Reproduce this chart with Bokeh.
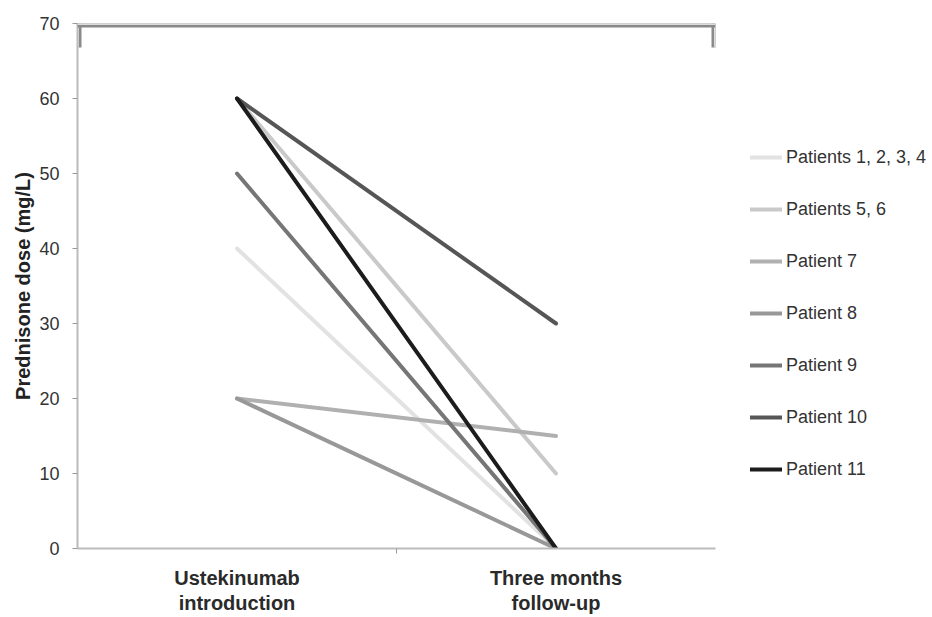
from bokeh.plotting import figure
from bokeh.models import Range1d, FixedTicker, Legend, LegendItem, Span
from bokeh.embed import file_html
from bokeh.resources import INLINE

categories = ["Ustekinumab\nintroduction", "Three months\nfollow-up"]
patients = ["Patients 1, 2, 3, 4", "Patients 5, 6", "Patient 7", "Patient 8",
            "Patient 9", "Patient 10", "Patient 11"]
dose_start = [40, 60, 20, 20, 50, 60, 60]
dose_end = [0, 10, 15, 0, 0, 30, 0]
colors = ["#e2e2e2", "#c9c9c9", "#b0b0b0", "#989898", "#767676", "#565656", "#1c1c1c"]
y_ticks = [0, 10, 20, 30, 40, 50, 60, 70]
y_max = 70

xpos = [i + 0.5 for i in range(len(categories))]
xr = Range1d(0, len(categories))
yr = Range1d(0, y_max)

p = figure(frame_width=638, frame_height=525, output_backend="svg", toolbar_location=None,
           x_range=xr, y_range=yr,
           min_border_left=77, min_border_right=0, min_border_top=23,
           min_border_bottom=60)
p.outline_line_color = None
p.xgrid.visible = False
p.ygrid.visible = False

items = []
for name, a, b, c in zip(patients, dose_start, dose_end, colors):
    r = p.line(xpos, [a, b], line_color=c, line_width=4, line_cap="round")
    items.append(LegendItem(label=name, renderers=[r]))

# decorative top frame (double line with end stubs)
stub_x = [xr.start, xr.end]
stub_top = [y_max, y_max]
stub_bot = [y_max - 3.2, y_max - 3.2]
p.segment(x0=stub_x, y0=stub_top, x1=stub_x, y1=stub_bot, line_color="#8a8a8a", line_width=8)
p.add_layout(Span(location=y_max, dimension="width", line_color="#8a8a8a", line_width=8))
p.add_layout(Span(location=y_max, dimension="width", line_color="#dcdcdc", line_width=3))
p.segment(x0=stub_x, y0=stub_top, x1=stub_x, y1=stub_bot, line_color="#dcdcdc", line_width=3)

# x axis
p.xaxis.ticker = FixedTicker(ticks=xpos, minor_ticks=[1])
p.xaxis.major_label_overrides = {x: c for x, c in zip(xpos, categories)}
p.xaxis.major_tick_line_color = None
p.xaxis.major_tick_out = 0
p.xaxis.major_tick_in = 0
p.xaxis.minor_tick_line_color = "#999999"
p.xaxis.minor_tick_out = 5
p.xaxis.minor_tick_in = 0
p.xaxis.axis_line_color = "#bbbbbb"
p.xaxis.axis_line_width = 2
p.xaxis.major_label_text_font = "Liberation Sans"
p.xaxis.major_label_text_font_style = "bold"
p.xaxis.major_label_text_font_size = "20px"
p.xaxis.major_label_text_color = "#2a2a2a"
p.xaxis.major_label_text_line_height = 1.15
p.xaxis.major_label_standoff = 13

# y axis
p.yaxis.ticker = FixedTicker(ticks=y_ticks)
p.yaxis.minor_tick_line_color = None
p.yaxis.major_tick_line_color = "#999999"
p.yaxis.major_tick_out = 5
p.yaxis.major_tick_in = 0
p.yaxis.axis_line_color = "#bbbbbb"
p.yaxis.axis_line_width = 2
p.yaxis.major_label_text_font = "Liberation Sans"
p.yaxis.major_label_text_font_size = "18px"
p.yaxis.major_label_text_color = "#333333"
p.yaxis.major_label_standoff = 13
p.yaxis.axis_label = "Prednisone dose (mg/L)"
p.yaxis.axis_label_text_font = "Liberation Sans"
p.yaxis.axis_label_text_font_style = "bold"
p.yaxis.axis_label_text_font_size = "20px"
p.yaxis.axis_label_text_color = "#222222"
p.yaxis.axis_label_standoff = 2

legend = Legend(items=items, location=(35, 68), orientation="vertical")
legend.border_line_color = None
legend.background_fill_alpha = 0
legend.padding = 0
legend.margin = 0
legend.glyph_width = 32
legend.glyph_height = 22
legend.label_height = 22
legend.spacing = 30
legend.label_standoff = 4
legend.label_text_font = "Liberation Sans"
legend.label_text_font_size = "18px"
legend.label_text_color = "#333333"
p.add_layout(legend, "right")

open("out.html", "w").write(file_html(p, INLINE))
